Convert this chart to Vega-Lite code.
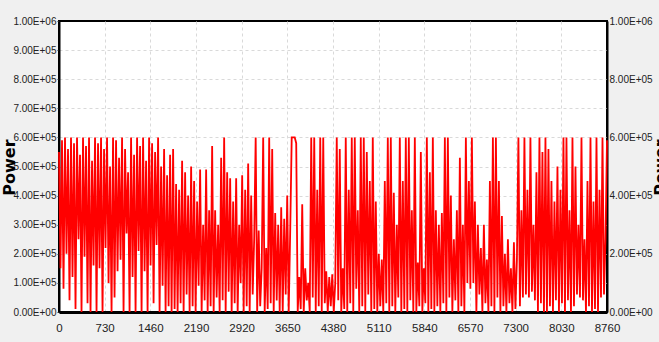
{
  "$schema": "https://vega.github.io/schema/vega-lite/v6.json",
  "width": 548,
  "height": 291,
  "autosize": {"type": "none"},
  "padding": {"left": 59, "top": 21, "right": 52, "bottom": 30},
  "background": "#f0f0f0",
  "config": {
    "view": {"fill": "white", "stroke": "black", "strokeWidth": 2},
    "axis": {
      "labelFont": "Liberation Sans",
      "labelFontSize": 10,
      "labelColor": "#222222",
      "gridColor": "#d9d9d9",
      "gridDash": [3, 3],
      "gridWidth": 1,
      "domainColor": "black",
      "tickColor": "#333333"
    }
  },
  "data": {
    "values": [
      {"h":0,"p":550000},{"h":24,"p":150000},{"h":48,"p":590000},{"h":72,"p":80000},{"h":96,"p":600000},{"h":120,"p":200000},{"h":144,"p":560000},{"h":168,"p":40000},{"h":192,"p":600000},{"h":216,"p":120000},
      {"h":240,"p":580000},{"h":264,"p":10000},{"h":288,"p":600000},{"h":312,"p":250000},{"h":336,"p":540000},{"h":360,"p":0},{"h":384,"p":600000},{"h":408,"p":190000},{"h":432,"p":570000},{"h":456,"p":30000},
      {"h":480,"p":600000},{"h":504,"p":0},{"h":528,"p":520000},{"h":552,"p":160000},{"h":576,"p":600000},{"h":600,"p":0},{"h":624,"p":580000},{"h":648,"p":150000},{"h":672,"p":600000},{"h":696,"p":0},
      {"h":720,"p":560000},{"h":744,"p":220000},{"h":768,"p":600000},{"h":792,"p":100000},{"h":816,"p":500000},{"h":840,"p":0},{"h":864,"p":600000},{"h":888,"p":50000},{"h":912,"p":590000},{"h":936,"p":140000},
      {"h":960,"p":530000},{"h":984,"p":180000},{"h":1008,"p":600000},{"h":1032,"p":0},{"h":1056,"p":560000},{"h":1080,"p":270000},{"h":1104,"p":480000},{"h":1128,"p":0},{"h":1152,"p":600000},{"h":1176,"p":120000},
      {"h":1200,"p":540000},{"h":1224,"p":0},{"h":1248,"p":600000},{"h":1272,"p":210000},{"h":1296,"p":570000},{"h":1320,"p":0},{"h":1344,"p":600000},{"h":1368,"p":140000},{"h":1392,"p":520000},{"h":1416,"p":0},
      {"h":1440,"p":600000},{"h":1464,"p":160000},{"h":1488,"p":580000},{"h":1512,"p":30000},{"h":1536,"p":550000},{"h":1560,"p":230000},{"h":1584,"p":600000},{"h":1608,"p":0},{"h":1632,"p":500000},{"h":1656,"p":90000},
      {"h":1680,"p":560000},{"h":1704,"p":0},{"h":1728,"p":470000},{"h":1752,"p":20000},{"h":1776,"p":540000},{"h":1800,"p":0},{"h":1824,"p":560000},{"h":1848,"p":10000},{"h":1872,"p":440000},{"h":1896,"p":0},
      {"h":1920,"p":420000},{"h":1944,"p":30000},{"h":1968,"p":520000},{"h":1992,"p":0},{"h":2016,"p":480000},{"h":2040,"p":60000},{"h":2064,"p":400000},{"h":2088,"p":0},{"h":2112,"p":500000},{"h":2136,"p":20000},
      {"h":2160,"p":450000},{"h":2184,"p":0},{"h":2208,"p":380000},{"h":2232,"p":90000},{"h":2256,"p":490000},{"h":2280,"p":0},{"h":2304,"p":300000},{"h":2328,"p":40000},{"h":2352,"p":490000},{"h":2376,"p":0},
      {"h":2400,"p":350000},{"h":2424,"p":20000},{"h":2448,"p":570000},{"h":2472,"p":0},{"h":2496,"p":350000},{"h":2520,"p":50000},{"h":2544,"p":300000},{"h":2568,"p":0},{"h":2592,"p":530000},{"h":2616,"p":40000},
      {"h":2640,"p":600000},{"h":2664,"p":0},{"h":2688,"p":480000},{"h":2712,"p":70000},{"h":2736,"p":460000},{"h":2760,"p":0},{"h":2784,"p":380000},{"h":2808,"p":30000},{"h":2832,"p":460000},{"h":2856,"p":0},
      {"h":2880,"p":300000},{"h":2904,"p":100000},{"h":2928,"p":470000},{"h":2952,"p":0},{"h":2976,"p":420000},{"h":3000,"p":20000},{"h":3024,"p":510000},{"h":3048,"p":0},{"h":3072,"p":400000},{"h":3096,"p":60000},
      {"h":3120,"p":250000},{"h":3144,"p":600000},{"h":3168,"p":0},{"h":3192,"p":280000},{"h":3216,"p":20000},{"h":3240,"p":150000},{"h":3264,"p":600000},{"h":3288,"p":0},{"h":3312,"p":220000},{"h":3336,"p":10000},
      {"h":3360,"p":600000},{"h":3384,"p":30000},{"h":3408,"p":560000},{"h":3432,"p":0},{"h":3456,"p":340000},{"h":3480,"p":40000},{"h":3504,"p":300000},{"h":3528,"p":0},{"h":3552,"p":360000},{"h":3576,"p":0},
      {"h":3600,"p":320000},{"h":3624,"p":60000},{"h":3648,"p":400000},{"h":3672,"p":0},{"h":3696,"p":280000},{"h":3720,"p":600000},{"h":3744,"p":600000},{"h":3768,"p":600000},{"h":3792,"p":580000},{"h":3816,"p":0},
      {"h":3840,"p":120000},{"h":3864,"p":10000},{"h":3888,"p":370000},{"h":3912,"p":0},{"h":3936,"p":150000},{"h":3960,"p":40000},{"h":3984,"p":100000},{"h":4008,"p":0},{"h":4032,"p":600000},{"h":4056,"p":50000},
      {"h":4080,"p":600000},{"h":4104,"p":0},{"h":4128,"p":420000},{"h":4152,"p":20000},{"h":4176,"p":600000},{"h":4200,"p":0},{"h":4224,"p":600000},{"h":4248,"p":30000},{"h":4272,"p":140000},{"h":4296,"p":0},
      {"h":4320,"p":120000},{"h":4344,"p":20000},{"h":4368,"p":130000},{"h":4392,"p":0},{"h":4416,"p":100000},{"h":4440,"p":600000},{"h":4464,"p":40000},{"h":4488,"p":560000},{"h":4512,"p":0},{"h":4536,"p":150000},
      {"h":4560,"p":10000},{"h":4584,"p":600000},{"h":4608,"p":0},{"h":4632,"p":420000},{"h":4656,"p":30000},{"h":4680,"p":600000},{"h":4704,"p":0},{"h":4728,"p":600000},{"h":4752,"p":80000},{"h":4776,"p":350000},
      {"h":4800,"p":0},{"h":4824,"p":600000},{"h":4848,"p":20000},{"h":4872,"p":600000},{"h":4896,"p":0},{"h":4920,"p":550000},{"h":4944,"p":60000},{"h":4968,"p":450000},{"h":4992,"p":0},{"h":5016,"p":600000},
      {"h":5040,"p":10000},{"h":5064,"p":380000},{"h":5088,"p":0},{"h":5112,"p":200000},{"h":5136,"p":20000},{"h":5160,"p":180000},{"h":5184,"p":0},{"h":5208,"p":450000},{"h":5232,"p":30000},{"h":5256,"p":600000},
      {"h":5280,"p":0},{"h":5304,"p":600000},{"h":5328,"p":20000},{"h":5352,"p":410000},{"h":5376,"p":0},{"h":5400,"p":300000},{"h":5424,"p":50000},{"h":5448,"p":600000},{"h":5472,"p":0},{"h":5496,"p":450000},
      {"h":5520,"p":10000},{"h":5544,"p":600000},{"h":5568,"p":0},{"h":5592,"p":600000},{"h":5616,"p":40000},{"h":5640,"p":350000},{"h":5664,"p":0},{"h":5688,"p":600000},{"h":5712,"p":0},{"h":5736,"p":170000},
      {"h":5760,"p":20000},{"h":5784,"p":550000},{"h":5808,"p":0},{"h":5832,"p":150000},{"h":5856,"p":30000},{"h":5880,"p":600000},{"h":5904,"p":0},{"h":5928,"p":480000},{"h":5952,"p":10000},{"h":5976,"p":600000},
      {"h":6000,"p":0},{"h":6024,"p":350000},{"h":6048,"p":20000},{"h":6072,"p":300000},{"h":6096,"p":0},{"h":6120,"p":340000},{"h":6144,"p":30000},{"h":6168,"p":600000},{"h":6192,"p":0},{"h":6216,"p":600000},
      {"h":6240,"p":50000},{"h":6264,"p":400000},{"h":6288,"p":0},{"h":6312,"p":250000},{"h":6336,"p":40000},{"h":6360,"p":350000},{"h":6384,"p":0},{"h":6408,"p":530000},{"h":6432,"p":20000},{"h":6456,"p":300000},
      {"h":6480,"p":0},{"h":6504,"p":600000},{"h":6528,"p":100000},{"h":6552,"p":450000},{"h":6576,"p":80000},{"h":6600,"p":600000},{"h":6624,"p":100000},{"h":6648,"p":380000},{"h":6672,"p":0},{"h":6696,"p":300000},
      {"h":6720,"p":60000},{"h":6744,"p":220000},{"h":6768,"p":0},{"h":6792,"p":300000},{"h":6816,"p":30000},{"h":6840,"p":180000},{"h":6864,"p":0},{"h":6888,"p":450000},{"h":6912,"p":20000},{"h":6936,"p":600000},
      {"h":6960,"p":0},{"h":6984,"p":600000},{"h":7008,"p":50000},{"h":7032,"p":450000},{"h":7056,"p":0},{"h":7080,"p":330000},{"h":7104,"p":20000},{"h":7128,"p":200000},{"h":7152,"p":0},{"h":7176,"p":250000},
      {"h":7200,"p":30000},{"h":7224,"p":150000},{"h":7248,"p":0},{"h":7272,"p":240000},{"h":7296,"p":10000},{"h":7320,"p":180000},{"h":7344,"p":600000},{"h":7368,"p":20000},{"h":7392,"p":350000},{"h":7416,"p":50000},
      {"h":7440,"p":600000},{"h":7464,"p":60000},{"h":7488,"p":420000},{"h":7512,"p":50000},{"h":7536,"p":600000},{"h":7560,"p":70000},{"h":7584,"p":300000},{"h":7608,"p":40000},{"h":7632,"p":480000},{"h":7656,"p":0},
      {"h":7680,"p":600000},{"h":7704,"p":30000},{"h":7728,"p":550000},{"h":7752,"p":0},{"h":7776,"p":600000},{"h":7800,"p":0},{"h":7824,"p":560000},{"h":7848,"p":20000},{"h":7872,"p":450000},{"h":7896,"p":0},
      {"h":7920,"p":380000},{"h":7944,"p":40000},{"h":7968,"p":500000},{"h":7992,"p":0},{"h":8016,"p":420000},{"h":8040,"p":30000},{"h":8064,"p":600000},{"h":8088,"p":0},{"h":8112,"p":600000},{"h":8136,"p":40000},
      {"h":8160,"p":350000},{"h":8184,"p":0},{"h":8208,"p":600000},{"h":8232,"p":20000},{"h":8256,"p":500000},{"h":8280,"p":60000},{"h":8304,"p":300000},{"h":8328,"p":50000},{"h":8352,"p":600000},{"h":8376,"p":40000},
      {"h":8400,"p":250000},{"h":8424,"p":0},{"h":8448,"p":450000},{"h":8472,"p":20000},{"h":8496,"p":600000},{"h":8520,"p":0},{"h":8544,"p":380000},{"h":8568,"p":10000},{"h":8592,"p":600000},{"h":8616,"p":0},
      {"h":8640,"p":420000},{"h":8664,"p":50000},{"h":8688,"p":600000},{"h":8712,"p":60000},{"h":8736,"p":250000},{"h":8760,"p":590000}
    ]
  },
  "encoding": {
    "x": {
      "field": "h",
      "type": "quantitative",
      "scale": {"domain": [0, 8760], "nice": false},
      "axis": {
        "values": [0, 730, 1460, 2190, 2920, 3650, 4380, 5110, 5840, 6570, 7300, 8030, 8760],
        "format": "d",
        "labelFlush": false,
        "title": null,
        "ticks": false,
        "domainWidth": 3,
        "labelPadding": 10,
        "labelFontSize": 11.5,
        "grid": true,
        "gridOpacity": {"condition": {"test": "datum.value == 0 || datum.value == 8760", "value": 0}, "value": 1}
      }
    }
  },
  "layer": [
    {
      "mark": {"type": "line", "color": "#ff0000", "strokeWidth": 1.8},
      "encoding": {
        "y": {
          "field": "p",
          "type": "quantitative",
          "scale": {"domain": [0, 1000000], "nice": false},
          "axis": {
            "values": [0, 100000, 200000, 300000, 400000, 500000, 600000, 700000, 800000, 900000, 1000000],
            "labelExpr": "replace(upper(format(datum.value, '.2e')), 'E+', 'E+0')",
            "title": "Power",
            "titleFont": "DejaVu Sans",
            "titleFontWeight": "bold",
            "titleFontSize": 16,
            "titleColor": "black",
            "titleX": -50,
            "titleY": 146,
            "titleAngle": -90,
            "titleAlign": "center",
            "titleBaseline": "middle",
            "tickSize": 2,
            "labelPadding": 1,
            "domainWidth": 2,
            "grid": true,
            "gridOpacity": {"condition": {"test": "datum.value == 0 || datum.value == 1000000", "value": 0}, "value": 1}
          }
        }
      }
    },
    {
      "mark": {"type": "line", "opacity": 0},
      "encoding": {
        "y": {
          "field": "p",
          "type": "quantitative",
          "scale": {"domain": [0, 1000000], "nice": false},
          "axis": {
            "orient": "right",
            "values": [0, 200000, 400000, 600000, 800000, 1000000],
            "labelExpr": "replace(upper(format(datum.value, '.2e')), 'E+', 'E+0')",
            "grid": false,
            "ticks": false,
            "labelPadding": 2,
            "domainWidth": 2,
            "title": "Power",
            "titleFont": "DejaVu Sans",
            "titleFontWeight": "bold",
            "titleFontSize": 16,
            "titleColor": "black",
            "titleX": 53,
            "titleY": 146,
            "titleAngle": -90,
            "titleAlign": "center",
            "titleBaseline": "middle"
          }
        }
      }
    }
  ],
  "resolve": {"scale": {"y": "independent"}}
}
